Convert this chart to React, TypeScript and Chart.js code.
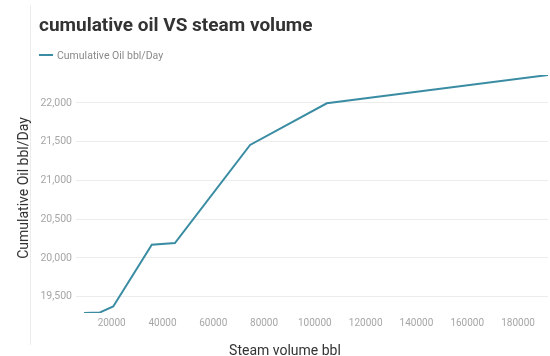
import React, { useEffect, useRef } from "react";
import { Chart, registerables } from "chart.js";

Chart.register(...registerables);

// Steam injected (bbl) against cumulative oil (bbl/day)
const steamVolume = [9100, 15400, 20600, 35800, 44900, 74500, 104700, 191800];
const cumulativeOil = [19290, 19298, 19375, 20170, 20192, 21459, 21996, 22361];

const chartTitle = "cumulative oil VS steam volume";
const seriesLabel = "Cumulative Oil bbl/Day";
const xAxisTitle = "Steam volume bbl";
const yAxisTitle = "Cumulative Oil bbl/Day";

const xTickStep = 20000;
const yTickStep = 500;

const lineColor = "#3a8ca3";
const FONT = "Roboto, 'Noto Sans', sans-serif";

// Ticks on round multiples of the step that fall inside the axis range
function stepTicks(step: number) {
  return (axis: any) => {
    const ticks: { value: number }[] = [];
    for (let v = Math.ceil(axis.min / step) * step; v <= axis.max; v += step) {
      ticks.push({ value: v });
    }
    axis.ticks = ticks;
  };
}

export default function App() {
  const canvasRef = useRef<HTMLCanvasElement | null>(null);

  useEffect(() => {
    if (!canvasRef.current) return;
    const points = steamVolume.map((x, i) => ({ x, y: cumulativeOil[i] }));

    const chart = new Chart(canvasRef.current, {
      type: "line",
      data: {
        datasets: [
          {
            label: seriesLabel,
            data: points,
            borderColor: lineColor,
            backgroundColor: lineColor,
            borderWidth: 2,
            pointRadius: 0,
            tension: 0,
            fill: false,
          },
        ],
      },
      options: {
        animation: false,
        responsive: false,
        maintainAspectRatio: false,
        layout: { padding: { top: 75, left: 0, right: 2, bottom: 0 } },
        plugins: {
          legend: { display: false },
          title: { display: false },
          tooltip: { enabled: false },
        },
        scales: {
          x: {
            type: "linear",
            bounds: "data",
            min: Math.min(...steamVolume),
            max: Math.max(...steamVolume),
            grid: { display: false, drawTicks: false },
            border: { display: false },
            afterBuildTicks: stepTicks(xTickStep),
            afterFit: (axis: any) => {
              axis.height = 43;
            },
            ticks: {
              padding: 4,
              color: "#a6a6a6",
              font: { family: FONT, size: 10 },
              callback: (v: any) => String(v),
              maxRotation: 0,
              autoSkip: false,
            },
          },
          y: {
            type: "linear",
            bounds: "data",
            min: Math.min(...cumulativeOil),
            max: Math.max(...cumulativeOil),
            grid: { color: "#ececec", tickLength: 8 },
            border: { display: false },
            afterBuildTicks: stepTicks(yTickStep),
            afterFit: (axis: any) => {
              axis.width = 84;
            },
            ticks: {
              padding: 4,
              color: "#a6a6a6",
              font: { family: FONT, size: 10.5 },
              autoSkip: false,
            },
          },
        },
      },
    });

    return () => chart.destroy();
  }, []);

  return (
    <div style={{ position: "absolute", left: 0, top: 0, width: 550, height: 356, background: "#ffffff", fontFamily: FONT }}>
      <div style={{ position: "absolute", left: 30, top: 5, width: 0, height: 340, borderLeft: "1px solid #ececec" }} />
      <canvas ref={canvasRef} width={550} height={356} style={{ position: "absolute", left: 0, top: 0 }} />
      <div
        style={{
          position: "absolute",
          left: 39,
          top: 14,
          fontSize: 19,
          fontWeight: 700,
          color: "#333333",
          whiteSpace: "nowrap",
          lineHeight: "22px",
        }}
      >
        {chartTitle}
      </div>
      <div style={{ position: "absolute", left: 39, top: 49, display: "flex", alignItems: "center", height: 12 }}>
        <div style={{ width: 14, height: 2, background: lineColor, marginRight: 4 }} />
        <span style={{ fontSize: 10.5, color: "#8a8a8a", whiteSpace: "nowrap" }}>{seriesLabel}</span>
      </div>
      <div
        style={{
          position: "absolute",
          left: 185,
          width: 200,
          top: 342,
          textAlign: "center",
          fontSize: 14,
          lineHeight: "16px",
          color: "#333333",
          whiteSpace: "nowrap",
        }}
      >
        {xAxisTitle}
      </div>
      <div
        style={{
          position: "absolute",
          left: 22.5 - 100,
          top: 187.5 - 8,
          width: 200,
          textAlign: "center",
          fontSize: 14,
          lineHeight: "16px",
          color: "#333333",
          whiteSpace: "nowrap",
          transform: "rotate(-90deg)",
          transformOrigin: "100px 8px",
        }}
      >
        {yAxisTitle}
      </div>
    </div>
  );
}
